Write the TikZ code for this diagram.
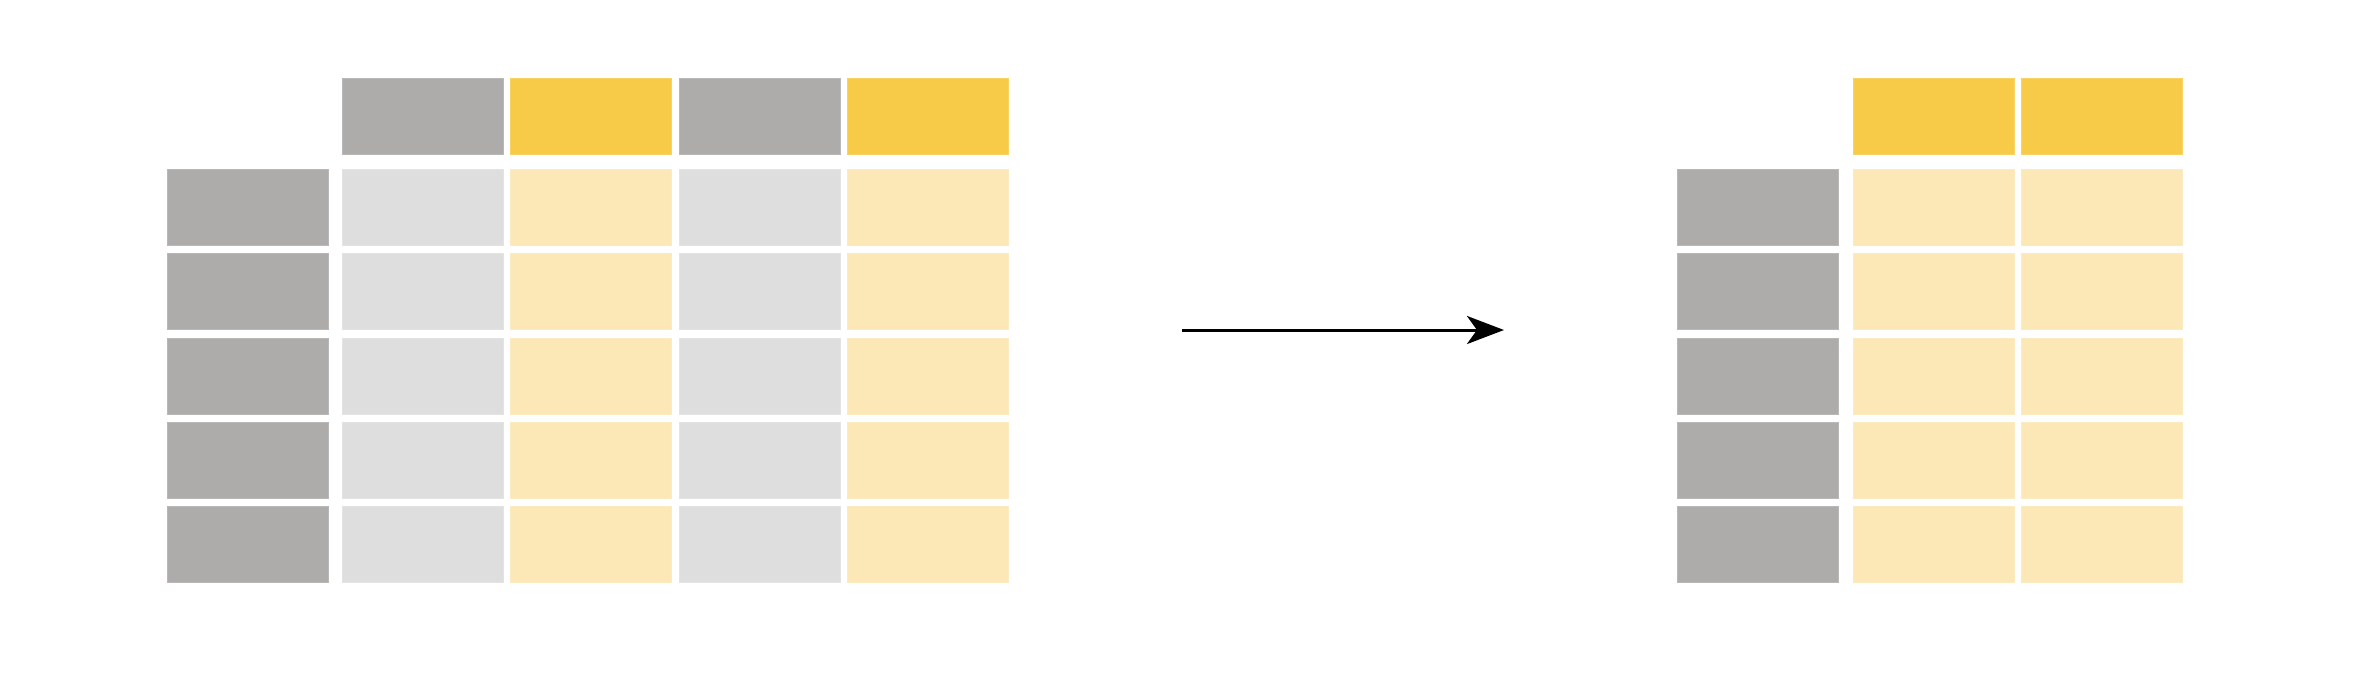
\documentclass[tikz,border=0pt]{standalone}
\usetikzlibrary{arrows.meta}
\definecolor{keygray}{HTML}{ADACAA}
\definecolor{cellgray}{HTML}{DEDEDE}
\definecolor{keyyellow}{HTML}{F7CA48}
\definecolor{cellyellow}{HTML}{FCE8B6}
\begin{document}
\begin{tikzpicture}[x=0.01cm,y=-0.01cm,
    cell/.style={rectangle,anchor=north west,inner sep=0pt,minimum width=1.61cm,
      minimum height=0.76cm,line width=0.01cm,fill=#1,draw=#1!85!white}]
        \useasboundingbox (0,0) rectangle (2360,690);
        % left table: header and body
        \foreach \i/\hc/\bc in {0/keygray/cellgray,1/keyyellow/cellyellow,2/keygray/cellgray,3/keyyellow/cellyellow} {
            \node[cell=\hc] (lh\i) at ({342+168.3*\i},78) {};
            \foreach \j in {0,...,4}
                \node[cell=\bc] (lc\i\j) at ({342+168.3*\i},{169+84.25*\j}) {};
        }
        \foreach \j in {0,...,4}
            \node[cell=keygray] (lk\j) at (167,{169+84.25*\j}) {};
        % right table
        \foreach \i in {0,1} {
            \node[cell=keyyellow] (rh\i) at ({1853+168*\i},78) {};
            \foreach \j in {0,...,4}
                \node[cell=cellyellow] (rc\i\j) at ({1853+168*\i},{169+84.25*\j}) {};
        }
        \foreach \j in {0,...,4}
            \node[cell=keygray] (rk\j) at (1677,{169+84.25*\j}) {};
        % arrow
        \coordinate (arrowstart) at (1182,330);
        \coordinate (arrowend) at (1504,330);
        \draw[line width=0.03cm,-{Stealth[length=0.37cm,width=0.28cm,inset=0.1cm]}] (arrowstart) -- (arrowend);
\end{tikzpicture}
\end{document}
